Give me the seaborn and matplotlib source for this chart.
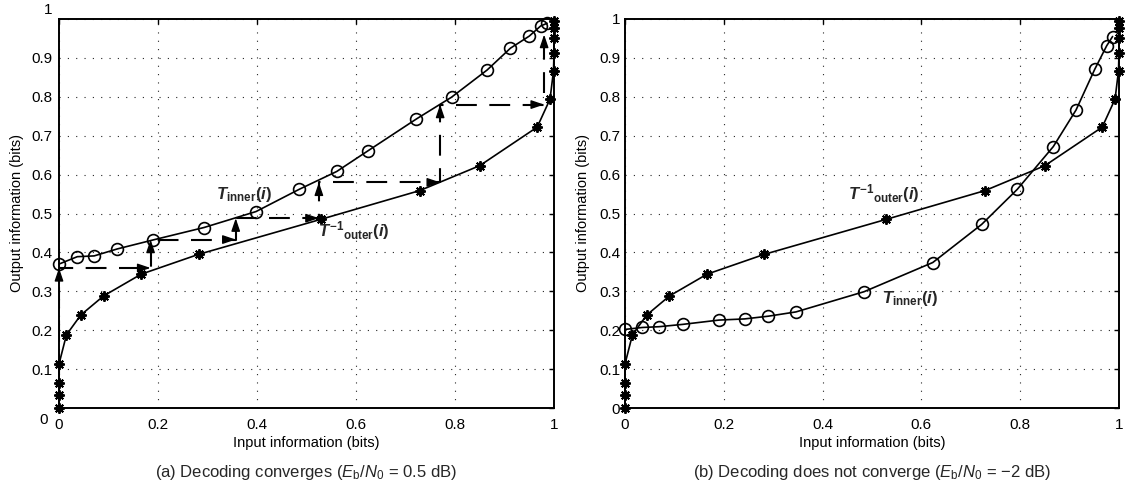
"""
EXIT chart of an iterative decoder: inner transfer curve vs inverted outer curve.
"""
import numpy as np
import matplotlib
matplotlib.use('Agg')
import matplotlib.pyplot as plt
import matplotlib.transforms as mtransforms
import seaborn as sns

# --- data ---
# inverted outer transfer curve (same outer code in both panels)
outer_x = [0.0, 0.0, 0.0, 0.0, 0.015, 0.044, 0.09, 0.166, 0.282, 0.529, 0.729, 0.85, 0.966, 0.992, 0.999, 1.0, 1.0, 1.0, 1.0]
outer_y = [0.0, 0.034, 0.065, 0.113, 0.188, 0.239, 0.288, 0.344, 0.395, 0.485, 0.559, 0.623, 0.722, 0.794, 0.867, 0.913, 0.95, 0.978, 0.995]

# inner transfer curve, Eb/N0 = 0.5 dB
inner_a_x = [0.0, 0.037, 0.071, 0.118, 0.19, 0.293, 0.398, 0.485, 0.561, 0.624, 0.722, 0.793, 0.865, 0.912, 0.95, 0.973, 0.986]
inner_a_y = [0.37, 0.389, 0.391, 0.409, 0.432, 0.464, 0.505, 0.562, 0.608, 0.661, 0.743, 0.799, 0.869, 0.925, 0.956, 0.982, 0.989]

# inner transfer curve, Eb/N0 = -2 dB
inner_b_x = [0.0, 0.035, 0.069, 0.117, 0.19, 0.242, 0.29, 0.346, 0.484, 0.623, 0.722, 0.794, 0.867, 0.913, 0.951, 0.975, 0.987]
inner_b_y = [0.202, 0.207, 0.209, 0.215, 0.226, 0.229, 0.236, 0.247, 0.299, 0.374, 0.472, 0.562, 0.672, 0.766, 0.871, 0.931, 0.955]

# decoding trajectory for panel (a)
traj_x = [0.0, 0.0, 0.185, 0.185, 0.357, 0.357, 0.525, 0.525, 0.77, 0.77, 0.98, 0.98]
traj_y = [0.0, 0.36, 0.36, 0.433, 0.433, 0.488, 0.488, 0.58, 0.58, 0.78, 0.78, 0.96]

x_ticks = [0, 0.2, 0.4, 0.6, 0.8, 1]
x_labels = ['0', '0.2', '0.4', '0.6', '0.8', '1']
y_ticks = [0, 0.1, 0.2, 0.3, 0.4, 0.5, 0.6, 0.7, 0.8, 0.9, 1]
y_labels = ['0', '0.1', '0.2', '0.3', '0.4', '0.5', '0.6', '0.7', '0.8', '0.9', '1']

captions = [r'(a) Decoding converges ($\mathsf{E}_{\mathrm{b}}/\mathsf{N}_{\mathrm{0}}$ = 0.5 dB)',
            r'(b) Decoding does not converge ($\mathsf{E}_{\mathrm{b}}/\mathsf{N}_{\mathrm{0}}$ = −2 dB)']
inner_label = r'$T_{\mathbf{inner}}\mathbf{(}i\mathbf{)}$'
outer_label = r'$T^{\mathbf{-1}}{}_{\mathbf{outer}}\mathbf{(}i\mathbf{)}$'

sns.set_theme(style='white')
plt.rcParams['font.family'] = ['Liberation Sans', 'DejaVu Sans']
plt.rcParams['mathtext.fontset'] = 'custom'
plt.rcParams['mathtext.rm'] = 'Liberation Sans'
plt.rcParams['mathtext.it'] = 'Liberation Sans:italic:bold'
plt.rcParams['mathtext.bf'] = 'Liberation Sans:bold'
plt.rcParams['mathtext.sf'] = 'Liberation Sans:italic'

W, H = 1128, 491
fig = plt.figure(figsize=(W / 100, H / 100), dpi=100)
ax_a = fig.add_axes([59 / W, 1 - 408 / H, 495 / W, 389 / H])
ax_b = fig.add_axes([625 / W, 1 - 408 / H, 494 / W, 389 / H])

star = (8, 2, 0)


def draw_curves(ax, ix, iy):
    sns.lineplot(x=outer_x, y=outer_y, ax=ax, sort=False, estimator=None, color='black',
                 lw=1.2, marker=star, ms=7.5, mec='black', mew=1.4, zorder=3, clip_on=False)
    sns.lineplot(x=ix, y=iy, ax=ax, sort=False, estimator=None, color='black',
                 lw=1.2, marker='o', ms=8.5, mfc='none', mec='black', mew=1.2, zorder=3,
                 clip_on=False)


def style_axes(ax, ypad):
    ax.set_xlim(0, 1)
    ax.set_ylim(0, 1)
    ax.set_xticks(x_ticks, x_labels)
    ax.set_yticks(y_ticks, y_labels)
    ax.tick_params(direction='in', top=True, right=True, length=3.6, width=1.0,
                   labelsize=11, color='black', labelcolor='black')
    ax.tick_params(axis='x', pad=7)
    ax.tick_params(axis='y', pad=ypad)
    ax.grid(True, color='0.15', lw=0.8, linestyle=(0, (1.0, 6.5)))
    for s in ax.spines.values():
        s.set_visible(True)
        s.set_color('black')
        s.set_linewidth(1.4)
        s.set_zorder(2.5)
    ax.set_xlabel('Input information (bits)', fontsize=10.5, color='black')
    ax.set_ylabel('Output information (bits)', fontsize=10.5, color='black')
    ax.xaxis.set_label_coords(0.5, -0.072)
    ax.yaxis.set_label_coords(-0.071, 0.5)


# panel (a)
draw_curves(ax_a, inner_a_x, inner_a_y)
sns.lineplot(x=traj_x, y=traj_y, ax=ax_a, sort=False, estimator=None, color='black',
             lw=1.5, dashes=False, linestyle=(0, (10, 6)), zorder=2)
for i in range(len(traj_x) - 1):
    x0, y0, x1, y1 = traj_x[i], traj_y[i], traj_x[i + 1], traj_y[i + 1]
    dx, dy = np.sign(x1 - x0) * 0.02, np.sign(y1 - y0) * 0.025
    ax_a.annotate('', xy=(x1, y1), xytext=(x1 - dx, y1 - dy),
                  arrowprops=dict(arrowstyle='-|>,head_length=0.65,head_width=0.22',
                                  color='black', lw=1.0, shrinkA=0, shrinkB=0),
                  zorder=4)
ax_a.text(0.318, 0.537, inner_label, fontsize=12, ha='left', va='baseline')
ax_a.text(0.523, 0.44, outer_label, fontsize=12, ha='left', va='baseline')
style_axes(ax_a, 5)

# the 0 and 1 labels sit off their ticks in the original
ticks = ax_a.yaxis.get_major_ticks()
ticks[0].label1.set_transform(ticks[0].label1.get_transform()
                              + mtransforms.ScaledTranslation(-0.04, -0.1, fig.dpi_scale_trans))
ticks[-1].label1.set_transform(ticks[-1].label1.get_transform()
                               + mtransforms.ScaledTranslation(0, 0.11, fig.dpi_scale_trans))

# panel (b)
draw_curves(ax_b, inner_b_x, inner_b_y)
ax_b.text(0.451, 0.535, outer_label, fontsize=12, ha='left', va='baseline')
ax_b.text(0.521, 0.269, inner_label, fontsize=12, ha='left', va='baseline')
style_axes(ax_b, 3.5)

fig.text(306.5 / W, 1 - 473 / H, captions[0], fontsize=12, ha='center', va='center')
fig.text(872 / W, 1 - 473 / H, captions[1], fontsize=12, ha='center', va='center')

fig.savefig('out.png', dpi=100)
